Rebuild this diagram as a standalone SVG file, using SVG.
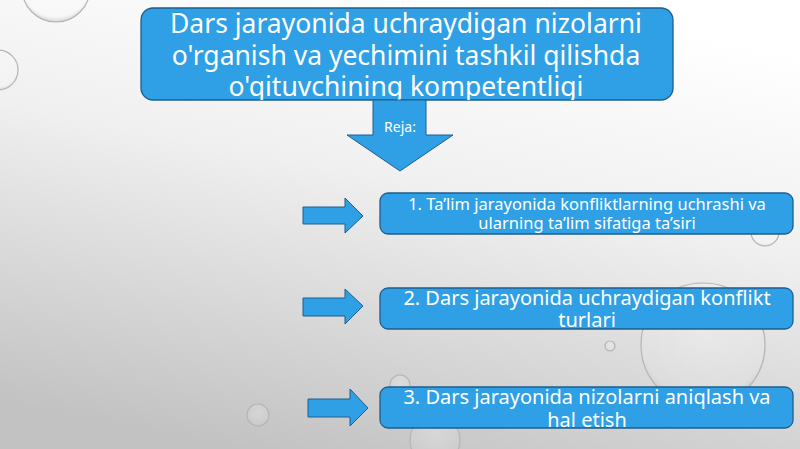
<svg xmlns="http://www.w3.org/2000/svg" width="800" height="449" viewBox="0 0 800 449">
<defs>
<linearGradient id="bg" x1="0.65" y1="0" x2="0.3" y2="1">
<stop offset="0" stop-color="#ffffff"/>
<stop offset="0.4" stop-color="#f0f0f0"/>
<stop offset="1" stop-color="#c2c2c2"/>
</linearGradient>
<radialGradient id="drop" cx="0.5" cy="0.4" r="0.6">
<stop offset="0" stop-color="#ffffff" stop-opacity="0.25"/>
<stop offset="0.85" stop-color="#ffffff" stop-opacity="0.1"/>
<stop offset="1" stop-color="#888888" stop-opacity="0.35"/>
</radialGradient>
<clipPath id="c0"><rect x="141" y="8" width="532" height="92" rx="12"/></clipPath>
<clipPath id="c1"><rect x="380" y="193" width="413" height="41" rx="8"/></clipPath>
<clipPath id="c2"><rect x="380" y="288" width="413" height="41" rx="8"/></clipPath>
<clipPath id="c3"><rect x="380" y="387" width="413" height="41" rx="8"/></clipPath>
</defs>
<style>
.box{fill:#2f9fe6;stroke:#1f5e8e;stroke-width:1.3}
.arr{fill:#2f9fe6;stroke:#1f5e8e;stroke-width:1}
.t{fill:#ffffff;font-family:"Noto Sans","Open Sans","DejaVu Sans",sans-serif;text-anchor:middle}
.d{fill:url(#drop);stroke:#b5b5b5;stroke-width:1.2}
</style>
<rect width="800" height="449" fill="url(#bg)"/>
<g id="drops">
<circle class="d" cx="56" cy="-12" r="34"/>
<circle class="d" cx="-2" cy="70" r="20"/>
<circle class="d" cx="765" cy="232" r="14"/>
<circle class="d" cx="703" cy="345" r="62"/>
<circle class="d" cx="610" cy="346" r="5"/>
<circle class="d" cx="435" cy="440" r="25"/>
<circle class="d" cx="258" cy="415" r="11"/>
<circle class="d" cx="400" cy="385" r="10"/>
</g>
<g id="title">
<rect class="box" x="141" y="8" width="532" height="92" rx="12"/>
<g clip-path="url(#c0)">
<text class="t" font-size="26.5" x="406" y="33">Dars jarayonida uchraydigan nizolarni</text>
<text class="t" font-size="26.5" x="406" y="65">o'rganish va yechimini tashkil qilishda</text>
<text class="t" font-size="26.5" x="406" y="96">o'qituvchining kompetentligi</text>
</g>
</g>
<g id="connectors">
<g id="down-arrow">
<polygon class="arr" points="373,100 426,100 426,135 453,135 400,171 347,135 373,135"/>
<text class="t" font-size="14" x="400" y="132">Reja:</text>
</g>
<polygon class="arr" points="303,207 345,207 345,198 363,216 345,233 345,224 303,224"/>
<polygon class="arr" points="303,298 345,298 345,289 363,306 345,324 345,316 303,316"/>
<polygon class="arr" points="308,399 350,399 350,389 368,408 350,426 350,417 308,417"/>
</g>
<g id="item1">
<rect class="box" x="380" y="193" width="413" height="41" rx="8"/>
<g clip-path="url(#c1)">
<text class="t" font-size="16.5" x="587" y="210">1. Ta’lim jarayonida konfliktlarning uchrashi va</text>
<text class="t" font-size="16.5" x="587" y="229">ularning ta’lim sifatiga ta’siri</text>
</g>
</g>
<g id="item2">
<rect class="box" x="380" y="288" width="413" height="41" rx="8"/>
<g clip-path="url(#c2)">
<text class="t" font-size="20" x="587" y="305">2. Dars jarayonida uchraydigan konflikt</text>
<text class="t" font-size="20" x="587" y="327">turlari</text>
</g>
</g>
<g id="item3">
<rect class="box" x="380" y="387" width="413" height="41" rx="8"/>
<g clip-path="url(#c3)">
<text class="t" font-size="20" x="587" y="404">3. Dars jarayonida nizolarni aniqlash va</text>
<text class="t" font-size="20" x="587" y="427">hal etish</text>
</g>
</g>
</svg>
